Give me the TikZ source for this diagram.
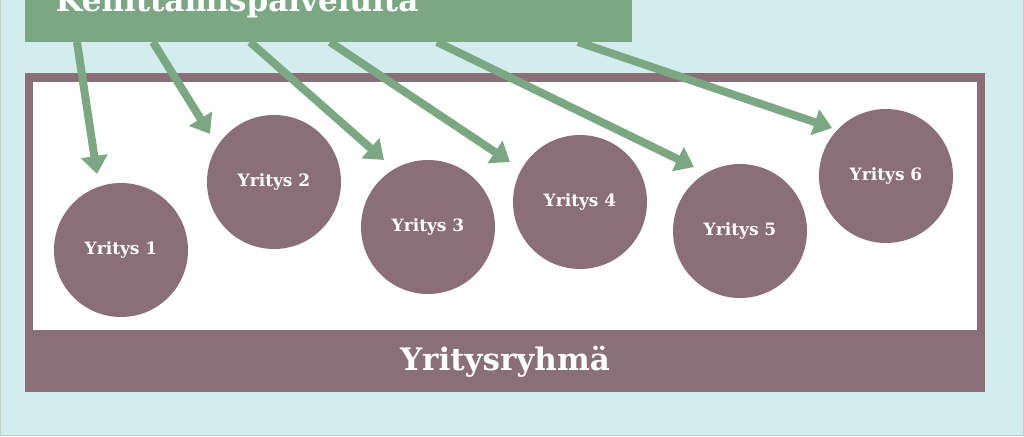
\documentclass[tikz,border=0pt]{standalone}
\usepackage{fontspec}
\setmainfont{DejaVu Serif}
\usetikzlibrary{arrows.meta}
\definecolor{bgc}{HTML}{D3ECEE}
\definecolor{mauve}{HTML}{8A6F78}
\definecolor{grn}{HTML}{7BA883}
\tikzset{co/.style={circle,fill=mauve,minimum size=134pt,inner sep=0pt,text=white,font=\bfseries\fontsize{17}{20}\selectfont},
arr/.style={grn,line width=8pt,-{Triangle[length=18pt,width=26pt]}}}
\begin{document}
\begin{tikzpicture}[x=1pt,y=-1pt]
\useasboundingbox (0,0) rectangle (1024,436);
\clip (0,0) rectangle (1024,436);
\fill[bgc] (0,0) rectangle (1024,436);
\draw[gray!40] (0.5,-5) rectangle (1023.5,435.5);
\fill[mauve] (25,73) rectangle (985,392);
\fill[white] (33,82) rectangle (977,330);
\node[text=white,font=\bfseries\fontsize{31}{34}\selectfont] (ryhma) at (505,362) {Yritysryhmä};
\fill[grn] (25,-10) rectangle (632,42);
\node[text=white,font=\bfseries\fontsize{31}{34}\selectfont,anchor=base west] (keh) at (52,12) {Kehittämispalveluita};
\coordinate (s1) at (77,42); \coordinate (s2) at (153,42); \coordinate (s3) at (250,42);
\coordinate (s4) at (330,42); \coordinate (s5) at (437,42); \coordinate (s6) at (578,42);
\coordinate (e1) at (97,174); \coordinate (e2) at (210,134); \coordinate (e3) at (384,160);
\coordinate (e4) at (510,162); \coordinate (e5) at (694,167); \coordinate (e6) at (832,128);
\node[co] (y1) at (121,250) {Yritys 1};
\node[co] (y2) at (274,182) {Yritys 2};
\node[co] (y3) at (428,227) {Yritys 3};
\node[co] (y4) at (580,202) {Yritys 4};
\node[co] (y5) at (740,231) {Yritys 5};
\node[co] (y6) at (886,176) {Yritys 6};
\foreach \i in {1,...,6}{\draw[arr] (s\i) -- (e\i);}
\end{tikzpicture}
\end{document}
